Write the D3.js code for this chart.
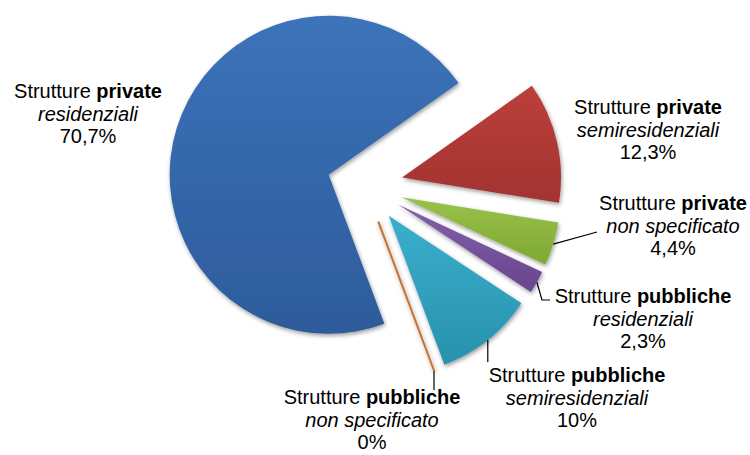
<!DOCTYPE html>
<html>
<head>
<meta charset="utf-8">
<script src="https://cdn.jsdelivr.net/npm/d3@7"></script>
<style>
  html, body { margin: 0; padding: 0; background: #ffffff; }
  text { font-family: "Liberation Sans", Arial, sans-serif; font-size: 20px; fill: #000; }
</style>
</head>
<body>
<svg id="chart" width="750" height="455"></svg>
<script>
// Distribution of structures by type (percent)
const sectors = ["private", "private", "private", "pubbliche", "pubbliche", "pubbliche"];
const kinds = ["residenziali", "semiresidenziali", "non specificato", "residenziali", "semiresidenziali", "non specificato"];
const values = [70.7, 12.3, 4.4, 2.3, 10, 0];
const topColors = ["#3c73ba", "#bb3f3b", "#9ac24a", "#8360aa", "#3aafcc", "#c9702a"];
const bottomColors = ["#2d5b9a", "#a2332f", "#7ea834", "#68458e", "#2891ad", "#b8611d"];

// Layout
const width = 750, height = 455;
const cx = 365, cy = 186;
const radius = 159;
const explode = 38;
const startDeg = 159.5;

// Label anchors (centre x, first baseline) and leader lines per slice
const labelLayout = [
  { x: 88,  y: 98,  leader: null },
  { x: 648, y: 114, leader: null },
  { x: 673, y: 210, leader: [[597, 232]] },
  { x: 643, y: 303, leader: [[542, 300], [550, 300]] },
  { x: 577, y: 382, leader: "down362" },
  { x: 372, y: 404, leader: "down390" }
];
const lineGap = 22.5;

const svg = d3.select("#chart");
const defs = svg.append("defs");

// Soft outer shadow under the slices
const shadow = defs.append("filter").attr("id", "shadow")
  .attr("x", "-20%").attr("y", "-20%").attr("width", "140%").attr("height", "140%");
shadow.append("feGaussianBlur").attr("in", "SourceAlpha").attr("stdDeviation", 2.2).attr("result", "b");
shadow.append("feOffset").attr("in", "b").attr("dx", 1).attr("dy", 2).attr("result", "o");
shadow.append("feComponentTransfer").attr("in", "o").attr("result", "s")
  .append("feFuncA").attr("type", "linear").attr("slope", 0.4);
const merge = shadow.append("feMerge");
merge.append("feMergeNode").attr("in", "s");
merge.append("feMergeNode").attr("in", "SourceGraphic");

values.forEach((v, i) => {
  const g = defs.append("linearGradient").attr("id", "grad" + i)
    .attr("x1", 0).attr("y1", 0).attr("x2", 0).attr("y2", 1);
  g.append("stop").attr("offset", "0%").attr("stop-color", topColors[i]);
  g.append("stop").attr("offset", "100%").attr("stop-color", bottomColors[i]);
});

const toRad = d => d * Math.PI / 180;
const pie = d3.pie().sort(null).value(d => d)
  .startAngle(toRad(startDeg)).endAngle(toRad(startDeg + 360));
const arcs = pie(values);
const arc = d3.arc().innerRadius(0).outerRadius(radius);

const offsetOf = d => {
  const m = (d.startAngle + d.endAngle) / 2;
  return [explode * Math.sin(m), -explode * Math.cos(m)];
};

const slices = svg.append("g").attr("transform", `translate(${cx},${cy})`);
slices.selectAll("path")
  .data(arcs)
  .join("path")
  .attr("transform", d => { const o = offsetOf(d); return `translate(${o[0]},${o[1]})`; })
  .attr("d", arc)
  .attr("fill", (d, i) => `url(#grad${i})`)
  .attr("stroke", (d, i) => d.value === 0 ? topColors[i] : "none")
  .attr("stroke-width", (d, i) => d.value === 0 ? 2 : 0)
  .attr("filter", "url(#shadow)");

// Leader lines from the slice rim to the labels
const fmt = d3.formatLocale({ decimal: ",", thousands: ".", grouping: [3], currency: ["", "€"] }).format(".1~f");
const leaders = svg.append("g").attr("fill", "none").attr("stroke", "#000").attr("stroke-width", 1.2);
arcs.forEach((d, i) => {
  const L = labelLayout[i].leader;
  if (!L) return;
  const m = (d.startAngle + d.endAngle) / 2;
  const r = radius + explode;
  const p0 = [cx + r * Math.sin(m), cy - r * Math.cos(m)];
  let pts;
  if (L === "down362") pts = [p0, [p0[0], 362]];
  else if (L === "down390") pts = [p0, [p0[0], 390]];
  else pts = [p0, ...L];
  leaders.append("path").attr("d", d3.line()(pts));
});

// Three-line labels: "Strutture <sector>", <kind>, value
const labels = svg.append("g");
arcs.forEach((d, i) => {
  const pos = labelLayout[i];
  const t1 = labels.append("text").attr("x", pos.x).attr("y", pos.y).attr("text-anchor", "middle");
  t1.append("tspan").text("Strutture ");
  t1.append("tspan").attr("font-weight", "bold").text(sectors[i]);
  labels.append("text").attr("x", pos.x).attr("y", pos.y + lineGap).attr("text-anchor", "middle")
    .attr("font-style", "italic").text(kinds[i]);
  labels.append("text").attr("x", pos.x).attr("y", pos.y + 2 * lineGap).attr("text-anchor", "middle")
    .text(fmt(values[i]) + "%");
});
</script>
</body>
</html>
